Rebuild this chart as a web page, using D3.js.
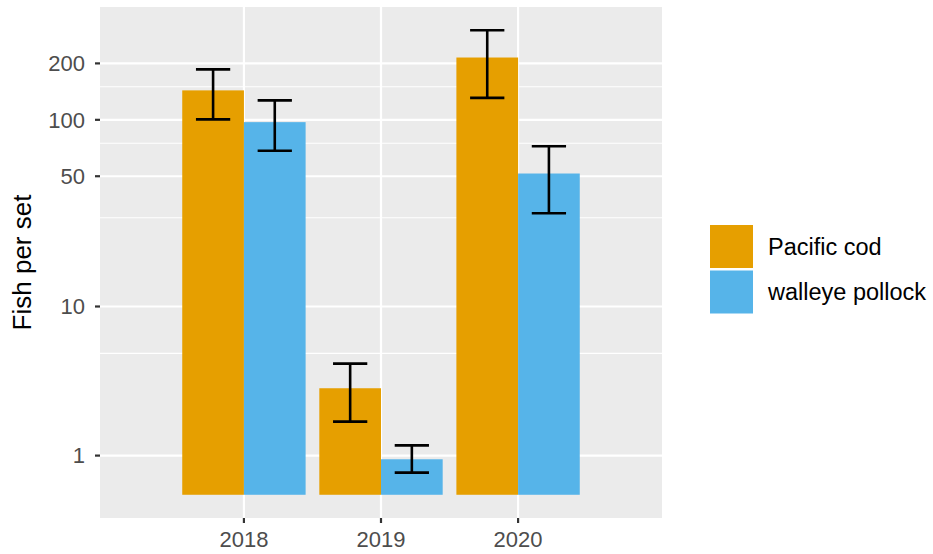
<!DOCTYPE html>
<html>
<head>
<meta charset="utf-8">
<script src="https://cdn.jsdelivr.net/npm/d3@7"></script>
<style>
  html, body { margin: 0; padding: 0; background: #ffffff; }
  svg { display: block; font-family: "Liberation Sans", Arial, Helvetica, sans-serif; }
</style>
</head>
<body>
<svg id="chart" width="933" height="554"></svg>
<script>
// Survey catch rates by year and species (fish per set, with interval bounds)
const years = ["2018", "2019", "2020"];
const species = ["Pacific cod", "walleye pollock"];
const codMean = [143.6, 3.43, 215];
const codLower = [100.6, 2.05, 131];
const codUpper = [185.8, 4.81, 300.6];
const pollockMean = [97.2, 0.90, 51.7];
const pollockLower = [68.4, 0.55, 31.7];
const pollockUpper = [127, 1.29, 72.3];
const yBreaks = [1, 10, 50, 100, 200];
const yMinorBreaks = [5.5, 30, 75, 150];
const speciesColors = ["#E69F00", "#56B4E9"];

const seriesMean = [codMean, pollockMean];
const seriesLower = [codLower, pollockLower];
const seriesUpper = [codUpper, pollockUpper];

const rows = [];
years.forEach((yr, i) => {
  species.forEach((sp, j) => {
    rows.push({ year: yr, yi: i, species: sp, si: j,
      mean: seriesMean[j][i], lower: seriesLower[j][i], upper: seriesUpper[j][i] });
  });
});

const svg = d3.select("#chart");
const panel = { left: 100, right: 662, top: 7, bottom: 518 };

// Pseudo-log transform (asinh(x / 2)), mapped onto a linear range
const pseudoLog = v => Math.asinh(v / 2);
const tMin = pseudoLog(0);
const tMax = pseudoLog(d3.max(rows, d => d.upper));
const tPad = (tMax - tMin) * 0.05;
const yLin = d3.scaleLinear().domain([tMin - tPad, tMax + tPad]).range([panel.bottom, panel.top]);
const y = v => yLin(pseudoLog(v));

// Discrete x positions 1..n with dodged bars
const groupWidth = 0.9;
const x = d3.scaleLinear()
  .domain([1 - groupWidth / 2 - 0.6, years.length + groupWidth / 2 + 0.6])
  .range([panel.left, panel.right]);
const barW = groupWidth / species.length;
const barX0 = d => d.yi + 1 - groupWidth / 2 + d.si * barW;
const barCenter = d => barX0(d) + barW / 2;

// Panel background and grid
svg.append("rect")
  .attr("x", panel.left).attr("y", panel.top)
  .attr("width", panel.right - panel.left).attr("height", panel.bottom - panel.top)
  .attr("fill", "#EBEBEB");

svg.append("g").selectAll("line").data(yMinorBreaks).join("line")
  .attr("x1", panel.left).attr("x2", panel.right)
  .attr("y1", d => y(d)).attr("y2", d => y(d))
  .attr("stroke", "#ffffff").attr("stroke-width", 1.1);

svg.append("g").selectAll("line").data(yBreaks).join("line")
  .attr("x1", panel.left).attr("x2", panel.right)
  .attr("y1", d => y(d)).attr("y2", d => y(d))
  .attr("stroke", "#ffffff").attr("stroke-width", 2.2);

svg.append("g").selectAll("line").data(years).join("line")
  .attr("x1", (d, i) => x(i + 1)).attr("x2", (d, i) => x(i + 1))
  .attr("y1", panel.top).attr("y2", panel.bottom)
  .attr("stroke", "#ffffff").attr("stroke-width", 2.2);

// Bars
svg.append("g").selectAll("rect").data(rows).join("rect")
  .attr("x", d => x(barX0(d)))
  .attr("width", d => x(barX0(d) + barW) - x(barX0(d)))
  .attr("y", d => y(d.mean))
  .attr("height", d => y(0) - y(d.mean))
  .attr("fill", d => speciesColors[d.si]);

// Error bars
const capHalf = 0.125;
const eb = svg.append("g").attr("stroke", "#000000").attr("stroke-width", 2.6).attr("fill", "none");
eb.selectAll("line.stem").data(rows).join("line").attr("class", "stem")
  .attr("x1", d => x(barCenter(d))).attr("x2", d => x(barCenter(d)))
  .attr("y1", d => y(d.lower)).attr("y2", d => y(d.upper));
eb.selectAll("line.capTop").data(rows).join("line").attr("class", "capTop")
  .attr("x1", d => x(barCenter(d) - capHalf)).attr("x2", d => x(barCenter(d) + capHalf))
  .attr("y1", d => y(d.upper)).attr("y2", d => y(d.upper));
eb.selectAll("line.capBot").data(rows).join("line").attr("class", "capBot")
  .attr("x1", d => x(barCenter(d) - capHalf)).attr("x2", d => x(barCenter(d) + capHalf))
  .attr("y1", d => y(d.lower)).attr("y2", d => y(d.lower));

// Y axis ticks and labels
const yAxis = svg.append("g");
yAxis.selectAll("line").data(yBreaks).join("line")
  .attr("x1", panel.left - 5).attr("x2", panel.left)
  .attr("y1", d => y(d)).attr("y2", d => y(d))
  .attr("stroke", "#333333").attr("stroke-width", 2.2);
yAxis.selectAll("text").data(yBreaks).join("text")
  .attr("x", panel.left - 15).attr("y", d => y(d)).attr("dy", "0.35em")
  .attr("text-anchor", "end").attr("font-size", 22).attr("fill", "#4D4D4D")
  .text(d => d3.format("d")(d));

// X axis ticks and labels
const xAxis = svg.append("g");
xAxis.selectAll("line").data(years).join("line")
  .attr("x1", (d, i) => x(i + 1)).attr("x2", (d, i) => x(i + 1))
  .attr("y1", panel.bottom).attr("y2", panel.bottom + 5)
  .attr("stroke", "#333333").attr("stroke-width", 2.2);
xAxis.selectAll("text").data(years).join("text")
  .attr("x", (d, i) => x(i + 1)).attr("y", 547)
  .attr("text-anchor", "middle").attr("font-size", 22).attr("fill", "#4D4D4D")
  .text(d => d);

// Y axis title
svg.append("text")
  .attr("transform", "translate(31," + ((panel.top + panel.bottom) / 2) + ") rotate(-90)")
  .attr("text-anchor", "middle").attr("font-size", 26).attr("fill", "#000000")
  .text("Fish per set");

// Legend
const legend = svg.append("g");
const keySize = 43, keyStep = 45.5, keyTop = 225, keyLeft = 710;
legend.selectAll("rect").data(species).join("rect")
  .attr("x", keyLeft).attr("y", (d, i) => keyTop + i * keyStep)
  .attr("width", keySize).attr("height", keySize)
  .attr("fill", (d, i) => speciesColors[i]);
legend.selectAll("text").data(species).join("text")
  .attr("x", keyLeft + 58).attr("y", (d, i) => keyTop + i * keyStep + keySize / 2)
  .attr("dy", "0.36em").attr("font-size", 23.5).attr("fill", "#000000")
  .text(d => d);
</script>
</body>
</html>
